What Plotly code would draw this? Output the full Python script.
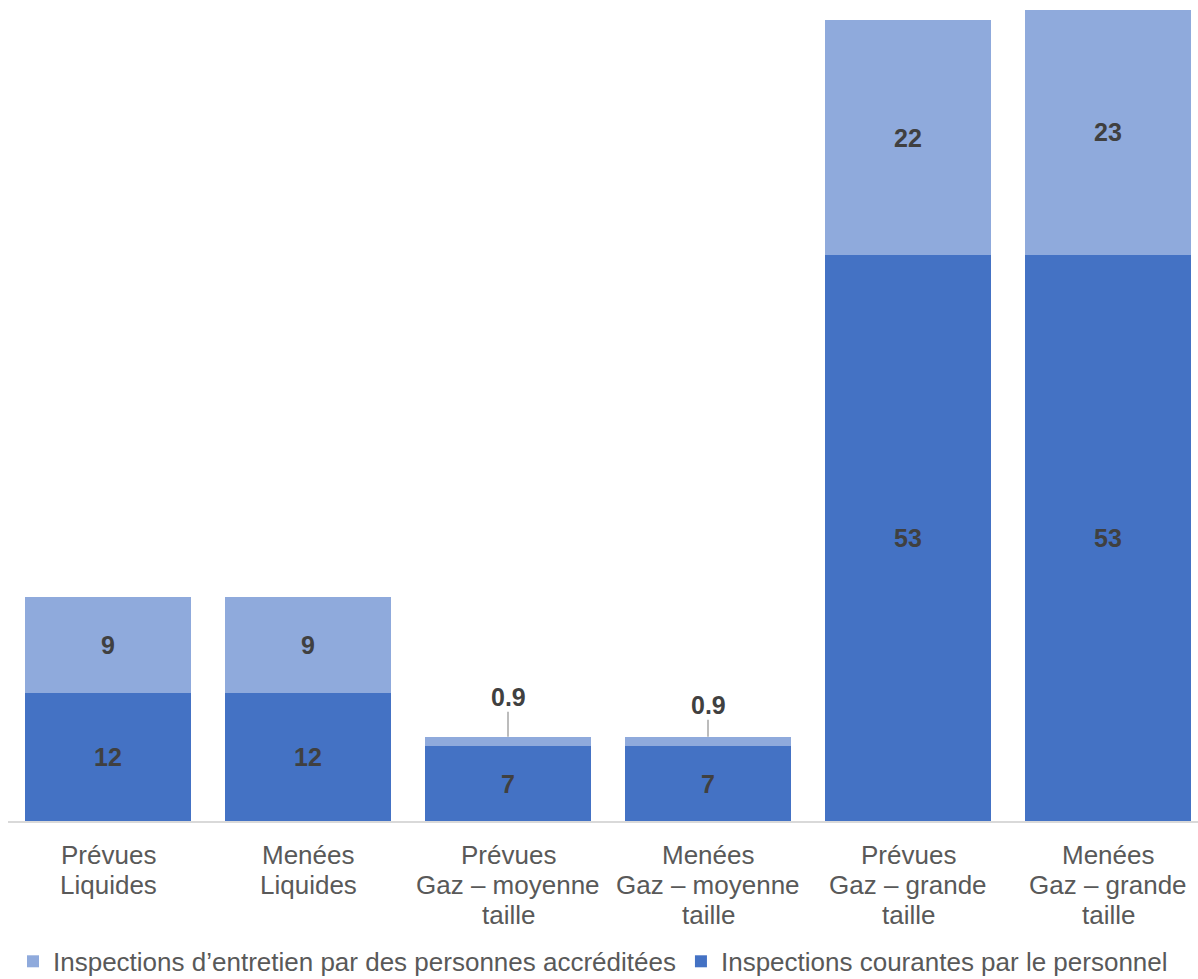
import plotly.graph_objects as go

categories = [
    "Prévues<br>Liquides",
    "Menées<br>Liquides",
    "Prévues<br>Gaz – moyenne<br>taille",
    "Menées<br>Gaz – moyenne<br>taille",
    "Prévues<br>Gaz – grande<br>taille",
    "Menées<br>Gaz – grande<br>taille",
]
courantes = [12, 12, 7, 7, 53, 53]
entretien = [9, 9, 0.9, 0.9, 22, 23]

name_courantes = "Inspections courantes par le personnel"
name_entretien = "Inspections d’entretien par des personnes accréditées"

dark = "#4472C4"
light = "#8FAADC"
label_color = "#404040"
text_color = "#595959"
font_family = "Liberation Sans, Arial, sans-serif"

x = list(range(len(categories)))

def fmt(v):
    return f"{v:g}"

# small segments get their label outside with a leader line
small_limit = 3
entretien_text = [fmt(v) if v >= small_limit else "" for v in entretien]
label_font = dict(family=font_family, size=25, color=label_color, weight="bold")

fig = go.Figure()
fig.add_trace(go.Bar(
    x=x, y=courantes, name=name_courantes,
    marker=dict(color=dark, line=dict(width=0)),
    text=[fmt(v) for v in courantes], textposition="inside",
    insidetextanchor="middle", textfont=label_font,
    width=0.83,
))
fig.add_trace(go.Bar(
    x=x, y=entretien, name=name_entretien,
    marker=dict(color=light, line=dict(width=0)),
    text=entretien_text, textposition="inside",
    insidetextanchor="middle", textfont=label_font,
    width=0.83,
))

offsets = {2: -25, 3: -17}
for i, (c, e) in enumerate(zip(courantes, entretien)):
    if e < small_limit:
        fig.add_annotation(
            x=i, y=c + e, text=f"<b>{fmt(e)}</b>",
            showarrow=True, arrowhead=0, arrowwidth=1.5, arrowcolor="#A6A6A6",
            ax=0, ay=offsets.get(i, -20), standoff=0, borderpad=0,
            font=dict(family=font_family, size=25, color=label_color),
            yanchor="bottom",
        )

# category labels, one line at a time for a tighter line spacing
line_step = 30
first_line = 34
for i, cat in enumerate(categories):
    for k, line in enumerate(cat.split("<br>")):
        fig.add_annotation(
            x=i, xref="x", y=0, yref="paper",
            text=line, showarrow=False,
            xanchor="center", yanchor="middle",
            yshift=-(first_line + k * line_step),
            font=dict(family=font_family, size=26, color=text_color),
        )

fig.update_layout(
    barmode="stack",
    width=1198, height=979,
    margin=dict(l=8, r=0, t=0, b=158, autoexpand=False),
    plot_bgcolor="white", paper_bgcolor="white",
    font=dict(family=font_family, size=26, color=text_color),
    showlegend=True,
    legend=dict(
        orientation="h", traceorder="reversed",
        xref="container", x=0.495, xanchor="center",
        yref="paper", y=-0.171, yanchor="middle",
        bgcolor="rgba(0,0,0,0)",
        font=dict(family=font_family, size=26, color=text_color),
        itemwidth=30, tracegroupgap=0,
    ),
    xaxis=dict(
        tickmode="array", tickvals=x, showticklabels=False,
        range=[-0.5, 5.45], showgrid=False, zeroline=False,
        showline=True, linecolor="#D9D9D9", linewidth=1.5,
        ticks="",
    ),
    yaxis=dict(
        range=[0, 76.9], visible=False, showgrid=False, zeroline=False,
    ),
)

fig.write_html("out.html")
